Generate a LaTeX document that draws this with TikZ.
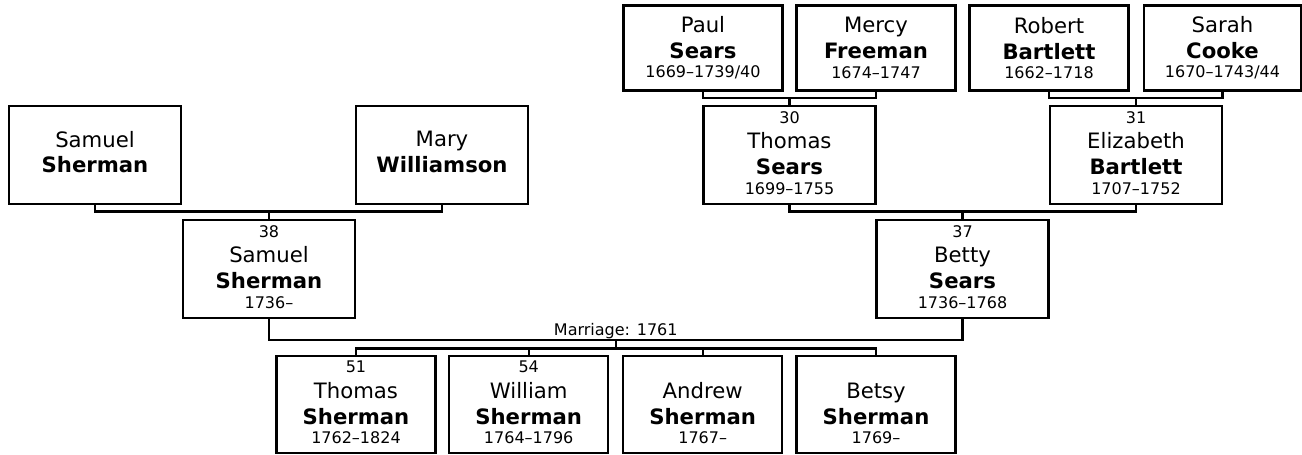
\documentclass[tikz,border=0pt]{standalone}
\usepackage{fontspec}
\setmainfont{DejaVu Sans}
\usetikzlibrary{calc}
\newcommand\smtxt[1]{{\fontsize{16}{18}\selectfont #1}}
\newcommand\dstrut{\rule[-4.6pt]{0pt}{4.6pt}}
\begin{document}
\begin{tikzpicture}[x=1pt,y=-1pt,
  person/.style={draw, line width=2.3pt, rectangle, inner sep=0pt, align=center,
    font=\fontsize{21.2}{25.8}\selectfont},
  bigbox/.style={person, minimum width=172pt, minimum height=98pt},
  topbox/.style={person, minimum width=159pt, minimum height=85pt},
  kidbox/.style={person, minimum width=159pt, minimum height=97pt},
  conn/.style={draw, line width=2.3pt},
  lbl/.style={font=\fontsize{16}{18}\selectfont, inner sep=0pt}]
\useasboundingbox (0,0) rectangle (1302,455);

% great-grandparents
\node[topbox] (paul) at (703,48) {Paul\\\textbf{Sears}\\[-6.3pt]\smtxt{1669–1739/40}};
\node[topbox] (mercy) at (876,48) {Mercy\\\textbf{Freeman}\\[-6.3pt]\smtxt{1674–1747}};
\node[topbox] (robert) at (1049,48) {Robert\\\textbf{Bartlett}\\[-6.3pt]\smtxt{1662–1718}};
\node[topbox, minimum width=157pt] (sarah) at (1222.5,48) {Sarah\\\textbf{Cooke}\\[-6.3pt]\smtxt{1670–1743/44}};

% grandparents
\node[bigbox] (samgf) at (95,155) {Samuel\\\textbf{Sherman}\rule[-6pt]{0pt}{6pt}};
\node[bigbox] (mary) at (442,155) {Mary\\\textbf{Williamson}\rule[-6pt]{0pt}{6pt}};
\node[bigbox] (thomas30) at (789.5,155) {\smtxt{30}\\Thomas\\\textbf{Sears}\\[-6.3pt]\smtxt{1699–1755}\dstrut};
\node[bigbox] (eliz31) at (1136,155) {\smtxt{31}\\Elizabeth\\\textbf{Bartlett}\\[-6.3pt]\smtxt{1707–1752}\dstrut};

% parents
\node[bigbox] (sam38) at (269,269) {\smtxt{38}\\Samuel\\\textbf{Sherman}\\[-6.3pt]\smtxt{1736–}\dstrut};
\node[bigbox] (betty37) at (962.5,269) {\smtxt{37}\\Betty\\\textbf{Sears}\\[-6.3pt]\smtxt{1736–1768}\dstrut};

% children
\node[kidbox] (kid51) at (356,404.5) {\smtxt{51}\\Thomas\\\textbf{Sherman}\\[-6.3pt]\smtxt{1762–1824}\dstrut};
\node[kidbox] (kid54) at (528.7,404.5) {\smtxt{54}\\William\\\textbf{Sherman}\\[-6.3pt]\smtxt{1764–1796}\dstrut};
\node[kidbox] (andrew) at (702.7,404.5) {\smtxt{\phantom{0}}\\Andrew\\\textbf{Sherman}\\[-6.3pt]\smtxt{1767–}\dstrut};
\node[kidbox] (betsy) at (876,404.5) {\smtxt{\phantom{0}}\\Betsy\\\textbf{Sherman}\\[-6.3pt]\smtxt{1769–}\dstrut};

% connector levels
\coordinate (ytop) at (0,98);
\coordinate (ymid) at (0,211.5);
\coordinate (ymar) at (0,340);
\coordinate (ykid) at (0,348.5);

% Paul + Mercy -> Thomas
\draw[conn] (paul.south) -- (paul.south |- ytop) -- (mercy.south |- ytop) -- (mercy.south);
\draw[conn] (thomas30.north) -- (thomas30.north |- ytop);
% Robert + Sarah -> Elizabeth
\draw[conn] (robert.south) -- (robert.south |- ytop) -- (sarah.south |- ytop) -- (sarah.south);
\draw[conn] (eliz31.north) -- (eliz31.north |- ytop);
% Thomas + Elizabeth -> Betty
\draw[conn] (thomas30.south) -- (thomas30.south |- ymid) -- (eliz31.south |- ymid) -- (eliz31.south);
\draw[conn] (betty37.north) -- (betty37.north |- ymid);
% Samuel + Mary -> Samuel
\draw[conn] (samgf.south) -- (samgf.south |- ymid) -- (mary.south |- ymid) -- (mary.south);
\draw[conn] (sam38.north) -- (sam38.north |- ymid);

% marriage
\draw[conn] (sam38.south) -- (sam38.south |- ymar) -- (betty37.south |- ymar) -- (betty37.south);
\coordinate (mmid) at ($(sam38.south |- ymar)!.5!(betty37.south |- ymar)$);
\node[lbl, anchor=base] (mlab) at ($(mmid)+(0,-5)$) {Marriage: 1761};
\draw[conn] (mmid) -- (mmid |- ykid);
\draw[conn] (kid51.north) -- (kid51.north |- ykid) -- (betsy.north |- ykid) -- (betsy.north);
\draw[conn] (kid54.north) -- (kid54.north |- ykid);
\draw[conn] (andrew.north) -- (andrew.north |- ykid);
\end{tikzpicture}
\end{document}
